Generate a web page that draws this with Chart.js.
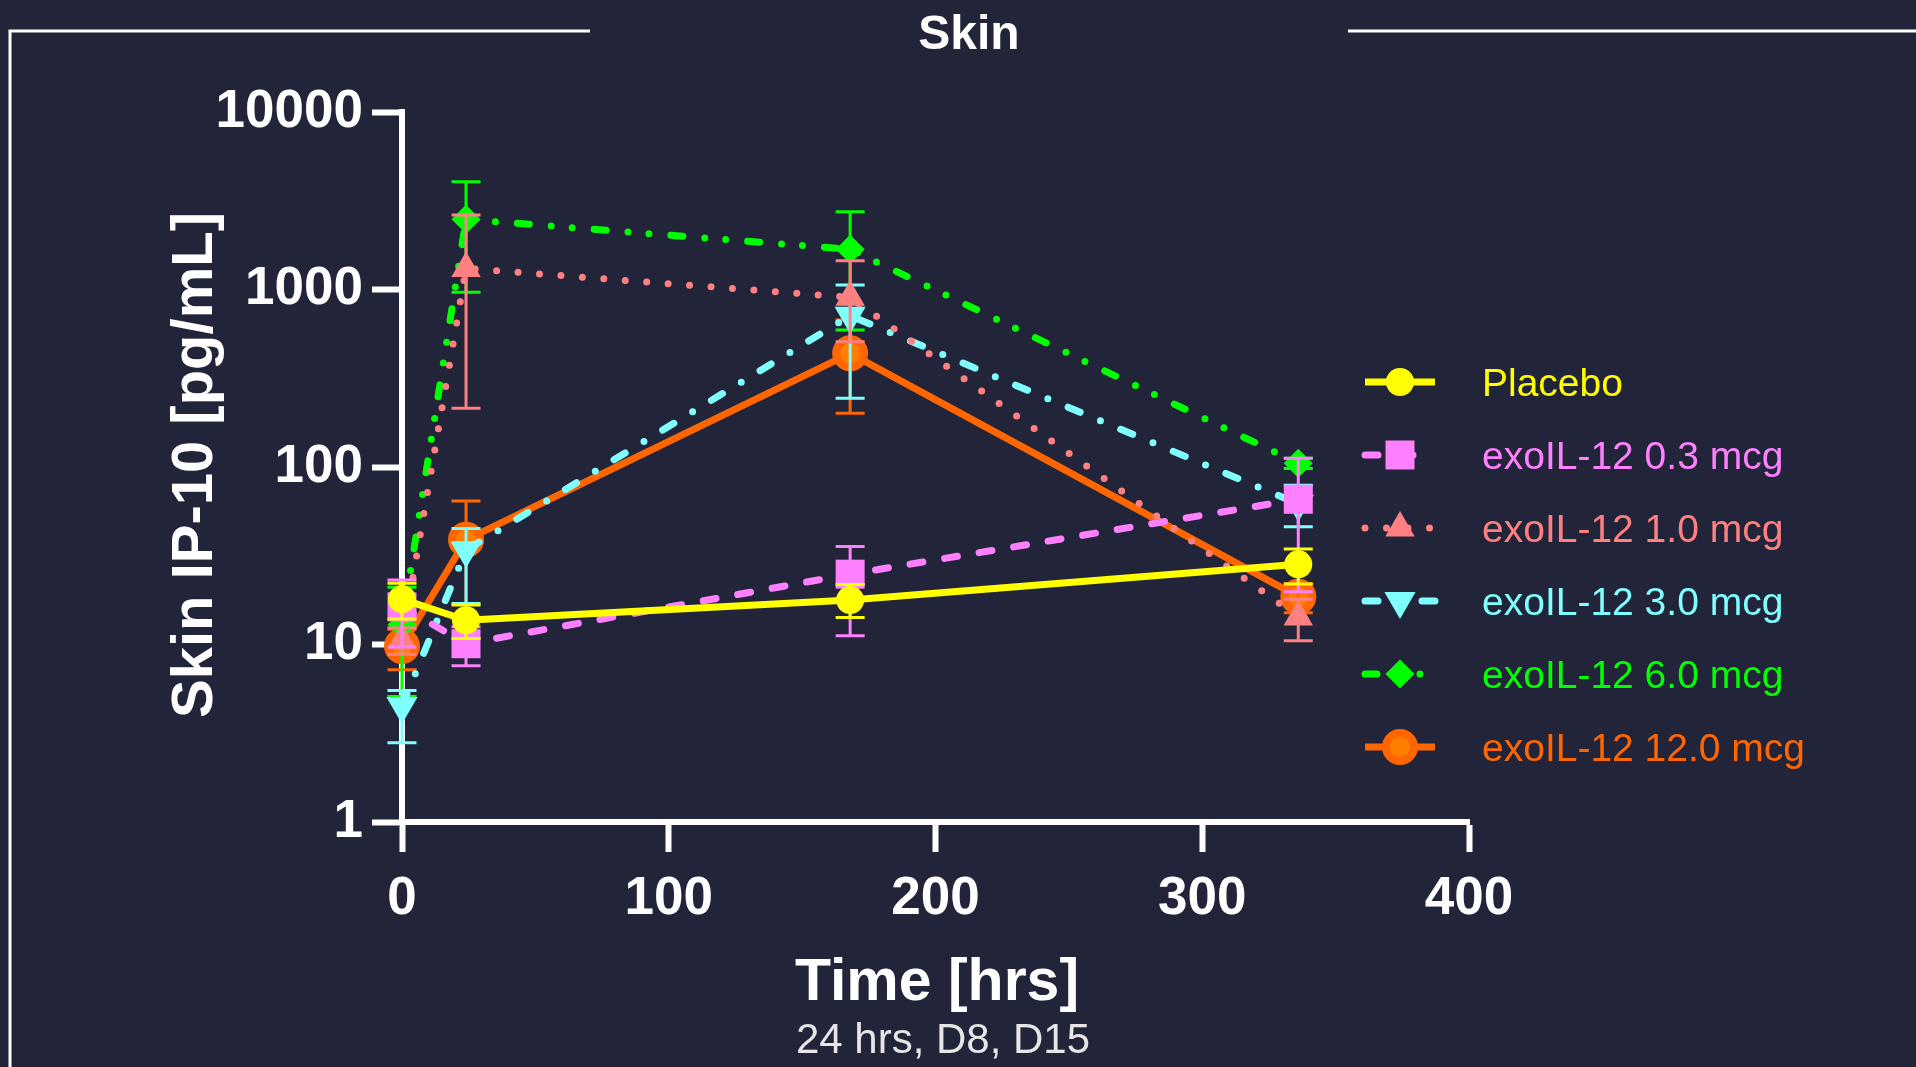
<!DOCTYPE html>
<html>
<head>
<meta charset="utf-8">
<title>Skin IP-10</title>
<script src="https://cdn.jsdelivr.net/npm/chart.js@4.4.1/dist/chart.umd.min.js"></script>
<style>
  html, body { margin: 0; padding: 0; background: #222439; overflow: hidden; }
  #wrap { position: relative; width: 1916px; height: 1067px; }
</style>
</head>
<body>
<div id="wrap"><canvas id="skinChart" width="1916" height="1067"></canvas></div>
<script>
// sampling times (hours after dose)
const hours = [0, 24, 168, 336];
const yTicks = [1, 10, 100, 1000, 10000];

const groupNames = ['Placebo', 'exoIL-12 0.3 mcg', 'exoIL-12 1.0 mcg', 'exoIL-12 3.0 mcg', 'exoIL-12 6.0 mcg', 'exoIL-12 12.0 mcg'];

// mean and error bar ends, pg/mL
const placeboMean = [18, 13.7, 17.8, 28.3];
const placeboLow  = [13.9, 10.8, 14.2, 21.9];
const placeboHigh = [22.1, 16.7, 21.8, 34.5];

const dose03Mean = [16.3, 10.1, 24.9, 65.8];
const dose03Low  = [9.7, 7.6, 11.2, 19.8];
const dose03High = [23.1, 12.6, 35.6, 112];

const dose10Mean = [10.5, 1315, 903, 14.3];
const dose10Low  = [8.8, 214, 508, 10.5];
const dose10High = [12.4, 2630, 1452, 18];

const dose30Mean = [4.5, 34, 712, 62];
const dose30Low  = [2.8, 17, 244, 46];
const dose30High = [5.5, 45, 1060, 79];

const dose60Mean = [12.9, 2484, 1684, 105];
const dose60Low  = [5.1, 964, 591, 98];
const dose60High = [21, 4049, 2744, 112];

const dose120Mean = [9.8, 38.9, 437, 18.6];
const dose120Low  = [7.2, 14, 201, 15.1];
const dose120High = [12.2, 64.3, 673, 22];

const FONT = '"Liberation Sans", Arial, sans-serif';

function series(label, mean, low, high, color, extra) {
  return Object.assign({
    label: label,
    data: hours.map((h, i) => ({ x: h, y: mean[i] })),
    errLow: low,
    errHigh: high,
    borderColor: color,
    backgroundColor: color,
    labelColor: color,
    errColor: color,
    borderWidth: 7,
    borderDash: [],
    borderCapStyle: 'butt',
    borderJoinStyle: 'round',
    pointStyle: 'circle',
    pointRadius: 14,
    pointRotation: 0,
    pointBackgroundColor: color,
    pointBorderColor: color,
    pointBorderWidth: 0,
    tension: 0,
    clip: false
  }, extra || {});
}

const datasets = [
  series(groupNames[0], placeboMean, placeboLow, placeboHigh, '#ffff00'),
  series(groupNames[1], dose03Mean, dose03Low, dose03High, '#ff80ff',
    { borderDash: [13, 22], borderCapStyle: 'round', pointStyle: 'rect', pointRadius: 20.5 }),
  series(groupNames[2], dose10Mean, dose10Low, dose10High, '#ff8080',
    { borderDash: [0, 21.5], borderCapStyle: 'round', pointStyle: 'triangle', pointRadius: 17 }),
  series(groupNames[3], dose30Mean, dose30Low, dose30High, '#80ffff',
    { borderDash: [13, 22, 0, 22], borderCapStyle: 'round', pointStyle: 'triangle', pointRadius: 18, pointRotation: 180 }),
  series(groupNames[4], dose60Mean, dose60Low, dose60High, '#00ff00',
    { borderDash: [12, 22, 0, 21, 0, 22], borderCapStyle: 'round', pointStyle: 'rectRot', pointRadius: 14.5 }),
  series(groupNames[5], dose120Mean, dose120Low, dose120High, '#ff6600',
    { pointBackgroundColor: '#ff8000', pointBorderColor: '#ff6600', pointBorderWidth: 8, pointRadius: 14 })
];

// vertical error bars with caps, drawn right after each dataset
const errorBars = {
  id: 'errorBars',
  afterDatasetDraw(chart, args) {
    const ds = chart.data.datasets[args.index];
    const yScale = chart.scales.y;
    const ctx = chart.ctx;
    ctx.save();
    ctx.strokeStyle = ds.errColor;
    ctx.lineWidth = 3;
    ctx.setLineDash([]);
    args.meta.data.forEach((pt, i) => {
      const top = yScale.getPixelForValue(ds.errHigh[i]);
      const bot = yScale.getPixelForValue(ds.errLow[i]);
      ctx.beginPath();
      ctx.moveTo(pt.x, top); ctx.lineTo(pt.x, bot);
      ctx.moveTo(pt.x - 14.5, top); ctx.lineTo(pt.x + 14.5, top);
      ctx.moveTo(pt.x - 14.5, bot); ctx.lineTo(pt.x + 14.5, bot);
      ctx.stroke();
    });
    ctx.restore();
  }
};

function marker(ctx, ds, x, y) {
  const opts = { pointStyle: ds.pointStyle, radius: ds.pointRadius, rotation: ds.pointRotation, borderWidth: ds.pointBorderWidth };
  ctx.fillStyle = ds.pointBackgroundColor;
  ctx.strokeStyle = ds.pointBorderColor;
  ctx.lineWidth = ds.pointBorderWidth;
  Chart.helpers.drawPoint(ctx, opts, x, y);
}

// legend on the right: line sample, marker, coloured label
const sideLegend = {
  id: 'sideLegend',
  afterDraw(chart) {
    const ctx = chart.ctx;
    chart.data.datasets.forEach((ds, i) => {
      const rowY = 382 + i * 73;
      ctx.save();
      ctx.strokeStyle = ds.borderColor;
      ctx.lineWidth = ds.borderWidth;
      ctx.lineCap = ds.borderCapStyle;
      ctx.setLineDash(ds.borderDash);
      ctx.beginPath();
      ctx.moveTo(1365, rowY);
      ctx.lineTo(1435, rowY);
      ctx.stroke();
      ctx.setLineDash([]);
      marker(ctx, ds, 1400, rowY);
      ctx.fillStyle = ds.labelColor;
      ctx.font = '39px ' + FONT;
      ctx.textAlign = 'left';
      ctx.textBaseline = 'alphabetic';
      ctx.fillText(ds.label, 1482, rowY + 14);
      ctx.restore();
    });
  }
};

// panel frame, panel title and axis titles
const decorations = {
  id: 'decorations',
  afterDraw(chart) {
    const ctx = chart.ctx;
    ctx.save();
    ctx.strokeStyle = '#ffffff';
    ctx.lineWidth = 3;
    ctx.beginPath();
    ctx.moveTo(10, 1067); ctx.lineTo(10, 31); ctx.lineTo(590, 31);
    ctx.moveTo(1348, 31); ctx.lineTo(1916, 31);
    ctx.stroke();

    ctx.fillStyle = '#ffffff';
    ctx.textAlign = 'center';
    ctx.textBaseline = 'alphabetic';
    ctx.font = 'bold 48px ' + FONT;
    ctx.fillText('Skin', 969, 49);

    ctx.font = 'bold 59px ' + FONT;
    ctx.fillText('Time [hrs]', 937, 1000);

    ctx.fillStyle = '#e6e6e6';
    ctx.font = '42px ' + FONT;
    ctx.fillText('24 hrs, D8, D15', 943, 1053);

    ctx.fillStyle = '#ffffff';
    ctx.translate(212, 465);
    ctx.rotate(-Math.PI / 2);
    ctx.font = 'bold 58px ' + FONT;
    ctx.fillText('Skin IP-10 [pg/mL]', 0, 0);
    ctx.restore();
  }
};

const axisGrid = {
  display: true,
  drawOnChartArea: false,
  drawTicks: true,
  tickLength: 30,
  tickWidth: 6,
  tickColor: '#ffffff',
  color: '#ffffff'
};

new Chart(document.getElementById('skinChart'), {
  type: 'line',
  data: { datasets: datasets },
  plugins: [errorBars, sideLegend, decorations],
  options: {
    responsive: false,
    animation: false,
    devicePixelRatio: 1,
    layout: { padding: { top: 112, right: 447, left: 0, bottom: 0 } },
    plugins: {
      legend: { display: false },
      tooltip: { enabled: false },
      title: { display: false }
    },
    scales: {
      x: {
        type: 'linear',
        min: 0,
        max: 400,
        ticks: { stepSize: 100, color: '#ffffff', padding: 16, font: { family: FONT, size: 53, weight: 'bold' } },
        grid: axisGrid,
        border: { display: true, color: '#ffffff', width: 6 },
        afterFit: (s) => { s.height = 245; }
      },
      y: {
        type: 'logarithmic',
        min: 1,
        max: 10000,
        afterBuildTicks: (axis) => { axis.ticks = yTicks.map(v => ({ value: v })); },
        ticks: { color: '#ffffff', padding: 9, font: { family: FONT, size: 53, weight: 'bold' }, callback: (v) => String(v) },
        grid: axisGrid,
        border: { display: true, color: '#ffffff', width: 6 },
        afterFit: (s) => { s.width = 402; }
      }
    }
  }
});
</script>
</body>
</html>
